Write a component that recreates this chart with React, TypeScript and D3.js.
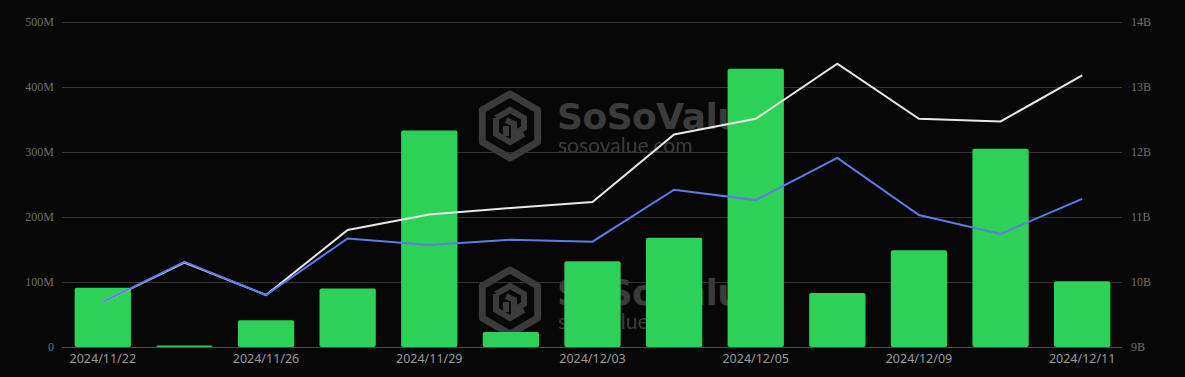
import React from "react";
import * as d3 from "d3";

const dates = ["2024/11/22","2024/11/25","2024/11/26","2024/11/27","2024/11/29","2024/12/02","2024/12/03","2024/12/04","2024/12/05","2024/12/06","2024/12/09","2024/12/10","2024/12/11"];
const barValues = [91e6, 2.5e6, 41e6, 90e6, 333e6, 23e6, 132e6, 168e6, 428e6, 83e6, 149e6, 305e6, 101e6];
const whiteLine = [9.69e9, 10.30e9, 9.80e9, 10.80e9, 11.04e9, 11.14e9, 11.23e9, 12.27e9, 12.51e9, 13.36e9, 12.51e9, 12.47e9, 13.18e9];
const blueLine = [9.69e9, 10.31e9, 9.80e9, 10.67e9, 10.57e9, 10.65e9, 10.62e9, 11.42e9, 11.26e9, 11.91e9, 11.03e9, 10.74e9, 11.28e9];
const leftTicks = [0, 100e6, 200e6, 300e6, 400e6, 500e6];
const leftTickLabels = ["0", "100M", "200M", "300M", "400M", "500M"];
const rightTicks = [9e9, 10e9, 11e9, 12e9, 13e9, 14e9];
const rightTickLabels = ["9B", "10B", "11B", "12B", "13B", "14B"];
const shownDateIdx = [0, 2, 4, 6, 8, 10, 12];

const W = 1185, H = 377;
const left = 62, right = 1123, top = 22, bottom = 347;

function Watermark({ x, y }: { x: number; y: number }) {
  const c = "#3b3b3b";
  const r = 32;
  const hex = d3.range(6).map(i => {
    const a = Math.PI / 180 * (60 * i - 90);
    return [r * Math.cos(a), r * Math.sin(a)];
  });
  return (
    <g transform={`translate(${x},${y})`}>
      <path d={"M" + hex.map(p => p.join(",")).join("L") + "Z"} fill="none" stroke={c} strokeWidth={7} strokeLinejoin="round" />
      <path d="M-14,-8 L0,-16 L14,-8 L14,2 L4,8 L4,-2 L-4,-6 M-14,-8 L-14,8 L0,16 L14,8 M-4,0 L-4,10 M4,8 L4,14" fill="none" stroke={c} strokeWidth={6} strokeLinejoin="miter" />
      <text x={47} y={3} fontFamily="'DejaVu Sans', sans-serif" fontWeight={700} fontSize={36} fill={c} letterSpacing={-0.5}>SoSoValue</text>
      <text x={48} y={27} fontFamily="Lato, 'Open Sans', sans-serif" fontWeight={400} fontSize={21} fill={c}>sosovalue.com</text>
    </g>
  );
}

export default function App() {
  const x = d3.scaleBand<string>().domain(dates).range([left, right]).paddingInner(0.31).paddingOuter(0.155);
  const yL = d3.scaleLinear().domain([0, 500e6]).range([bottom, top]);
  const yR = d3.scaleLinear().domain([9e9, 14e9]).range([bottom, top]);
  const cx = (d: string) => (x(d) as number) + x.bandwidth() / 2;
  const lineGen = (vals: number[]) =>
    d3.line<number>().x((_, i) => cx(dates[i])).y(v => yR(v))(vals) as string;

  return (
    <svg width={W} height={H} style={{ position: "absolute", left: 0, top: 0, display: "block" }}>
      <rect width={W} height={H} fill="#070707" />
      <Watermark x={510} y={126} />
      <Watermark x={510} y={302} />
      {leftTicks.map((t, i) => (
        <g key={"g" + i}>
          <line x1={left} x2={right - 1} y1={yL(t) + 0.5} y2={yL(t) + 0.5} stroke={i === 0 ? "#4a4a4a" : "#333333"} strokeWidth={1} />
          <text x={54} y={yL(t) + 4} textAnchor="end" fontFamily="'Liberation Serif', serif" fontSize={12} fill="#6e6e6e">{leftTickLabels[i]}</text>
        </g>
      ))}
      {rightTicks.map((t, i) => (
        <text key={"r" + i} x={1131} y={yR(t) + 4} textAnchor="start" fontFamily="'Liberation Serif', serif" fontSize={12} fill="#6e6e6e">{rightTickLabels[i]}</text>
      ))}
      {dates.map((d, i) => (
        <rect key={"b" + i} x={x(d)} y={yL(barValues[i])} width={x.bandwidth()} height={bottom - yL(barValues[i])} rx={2} ry={2} fill="#2ed158" />
      ))}
      <path d={lineGen(whiteLine)} fill="none" stroke="#e8e8e8" strokeWidth={2} />
      <path d={lineGen(blueLine)} fill="none" stroke="#5f7be6" strokeWidth={2} />
      {shownDateIdx.map(i => (
        <text key={"x" + i} x={cx(dates[i])} y={363} textAnchor="middle" fontFamily="'Noto Sans', 'Open Sans', sans-serif" fontSize={12.5} fill="#9a9a9a">{dates[i]}</text>
      ))}
    </svg>
  );
}
